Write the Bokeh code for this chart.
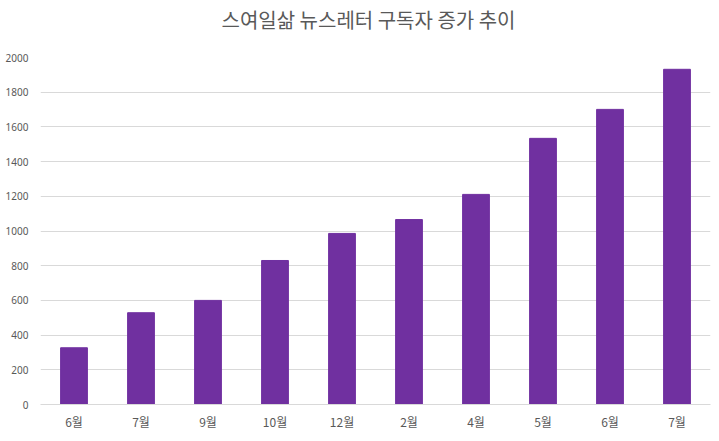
from bokeh.plotting import figure
from bokeh.layouts import column
from bokeh.models import ColumnDataSource, FixedTicker
from bokeh.core.properties import value
from bokeh.embed import file_html
from bokeh.resources import INLINE

title_text = "스여일삶 뉴스레터 구독자 증가 추이"
months = ["6월", "7월", "9월", "10월", "12월", "2월", "4월", "5월", "6월", "7월"]
subscribers = [327, 529, 600, 830, 986, 1066, 1211, 1534, 1701, 1932]
y_ticks = [0, 200, 400, 600, 800, 1000, 1200, 1400, 1600, 1800, 2000]

W = 718
TOTAL_H = 440
TITLE_H = 45

# title strip (a figure used only to hold the chart title as SVG text)
tf = figure(width=W, height=TITLE_H, x_range=(0, W), y_range=(0, TITLE_H),
            output_backend="svg", toolbar_location=None,
            x_axis_location=None, y_axis_location=None,
            min_border=0, min_border_left=0, min_border_right=0,
            min_border_top=0, min_border_bottom=0)
tf.xgrid.grid_line_color = None
tf.ygrid.grid_line_color = None
tf.outline_line_color = None
tf.text(x=[351.5], y=[TITLE_H - 19], text=[title_text],
        text_align="center", text_baseline="middle",
        text_font=value("Noto Sans CJK KR"), text_font_size="20px",
        text_color="#595959")

positions = list(range(len(months)))
source = ColumnDataSource(data=dict(x=positions, month=months, value=subscribers))

p = figure(width=W, height=TOTAL_H - TITLE_H, x_range=(-0.5, len(months) - 0.5), y_range=(0, 2000),
           output_backend="svg", toolbar_location=None,
           min_border_left=40, min_border_right=8, min_border_top=57 - TITLE_H,
           min_border_bottom=36)

p.vbar(x="x", top="value", width=0.4, source=source, color="#7030a0")

p.outline_line_color = None
p.xgrid.grid_line_color = None
p.ygrid.grid_line_color = "#d9d9d9"
p.ygrid.grid_line_width = 1

for ax in (p.xaxis[0], p.yaxis[0]):
    ax.axis_label = None
    ax.major_tick_out = 0
    ax.major_tick_in = 0
    ax.minor_tick_out = 0
    ax.minor_tick_in = 0
    ax.major_tick_line_color = None
    ax.minor_tick_line_color = None
    ax.major_label_text_color = "#595959"

p.yaxis.ticker = FixedTicker(ticks=y_ticks)
p.yaxis.axis_line_color = None
p.yaxis.major_label_text_font = "Noto Sans"
p.yaxis.major_label_text_font_size = "10px"
p.yaxis.major_label_standoff = 12

p.xaxis.ticker = FixedTicker(ticks=positions)
p.xaxis.major_label_overrides = {i: m for i, m in zip(positions, months)}
p.xaxis.axis_line_color = "#d9d9d9"
p.xaxis.major_label_text_font = "Noto Sans CJK KR"
p.xaxis.major_label_text_font_size = "12px"
p.xaxis.major_label_text_line_height = 0.8
p.xaxis.major_label_standoff = 8

layout = column(tf, p, spacing=0)
open("out.html", "w").write(file_html(layout, INLINE))
